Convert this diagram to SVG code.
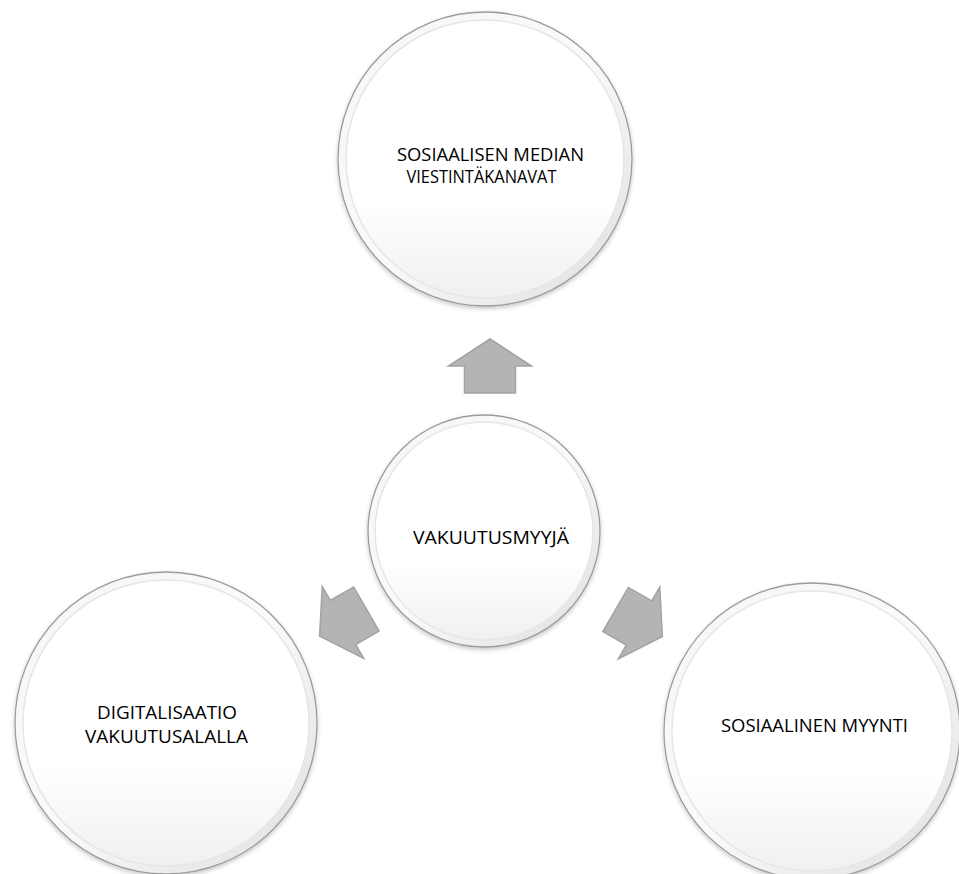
<svg xmlns="http://www.w3.org/2000/svg" width="959" height="874" viewBox="0 0 959 874">
<defs>
<linearGradient id="face" x1="0" y1="0" x2="0" y2="1">
<stop offset="0" stop-color="#ffffff"/>
<stop offset="0.65" stop-color="#ffffff"/>
<stop offset="1" stop-color="#f0f0f0"/>
</linearGradient>
<linearGradient id="rim" x1="0" y1="0" x2="1" y2="1">
<stop offset="0" stop-color="#f6f6f6"/>
<stop offset="0.5" stop-color="#fafafa"/>
<stop offset="1" stop-color="#dedede"/>
</linearGradient>
<filter id="sh" x="-10%" y="-10%" width="120%" height="125%">
<feDropShadow dx="0" dy="2" stdDeviation="2" flood-color="#000" flood-opacity="0.22"/>
</filter>
<path id="arr" d="M0,-27 L41.5,0 L25.5,0 L25.5,27 L-25.5,27 L-25.5,0 L-41.5,0 Z"/>
</defs>
<style>
.outer{fill:url(#rim);stroke:#9c9c9c;stroke-width:1.3;filter:url(#sh)}
.inner{fill:url(#face);stroke:#e6e6e6;stroke-width:1.5}
.lbl{font-family:"Open Sans","Liberation Sans",sans-serif;font-size:17.5px;fill:#000;text-anchor:middle}
.arrow{fill:#b4b4b4;stroke:#a3a3a3;stroke-width:1.5;stroke-linejoin:miter}
</style>
<rect width="959" height="874" fill="#ffffff"/>
<g id="connectors">
<use href="#arr" class="arrow" transform="translate(490,366)"/>
<use href="#arr" class="arrow" transform="translate(343,622.5) rotate(240)"/>
<use href="#arr" class="arrow" transform="translate(639,623) rotate(120)"/>
</g>
<g id="node-top">
<circle class="outer" cx="485" cy="159" r="147"/>
<circle class="inner" cx="485" cy="159" r="139"/>
<text class="lbl" x="490.5" y="160.5" textLength="187" lengthAdjust="spacingAndGlyphs">SOSIAALISEN MEDIAN</text>
<text class="lbl" x="481.5" y="182.5" textLength="150" lengthAdjust="spacingAndGlyphs">VIESTINTÄKANAVAT</text>
</g>
<g id="node-center">
<circle class="outer" cx="484" cy="531" r="116"/>
<circle class="inner" cx="484" cy="531" r="109"/>
<text class="lbl" x="491" y="544" textLength="156" lengthAdjust="spacingAndGlyphs">VAKUUTUSMYYJÄ</text>
</g>
<g id="node-left">
<circle class="outer" cx="166" cy="723" r="151"/>
<circle class="inner" cx="166" cy="723" r="143"/>
<text class="lbl" x="167" y="719" textLength="140" lengthAdjust="spacingAndGlyphs">DIGITALISAATIO</text>
<text class="lbl" x="166.5" y="743" textLength="163" lengthAdjust="spacingAndGlyphs">VAKUUTUSALALLA</text>
</g>
<g id="node-right">
<circle class="outer" cx="812" cy="731" r="148"/>
<circle class="inner" cx="812" cy="731" r="140"/>
<text class="lbl" x="814.5" y="732" textLength="187" lengthAdjust="spacingAndGlyphs">SOSIAALINEN MYYNTI</text>
</g>
</svg>
